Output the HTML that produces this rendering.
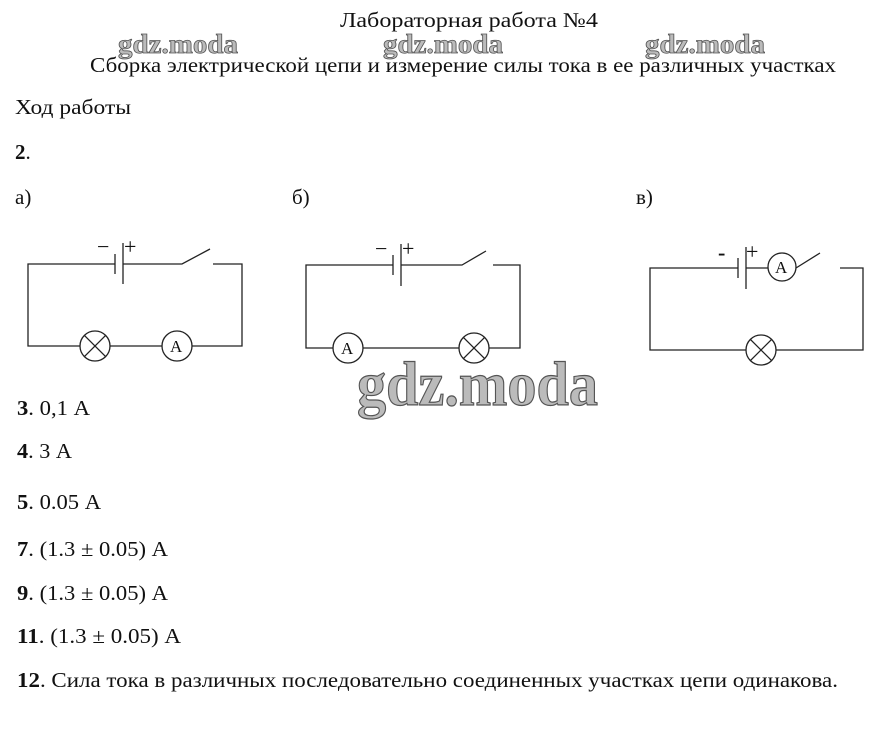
<!DOCTYPE html>
<html><head><meta charset="utf-8"><style>
html,body{margin:0;padding:0;background:#fff;}
svg{display:block;}
text{font-family:"Liberation Serif","DejaVu Serif",serif;fill:#111;}
.w{font-weight:bold;fill:#bbb;stroke:#555;stroke-width:0.8;}
</style></head><body>
<svg width="874" height="739" viewBox="0 0 874 739" xmlns="http://www.w3.org/2000/svg">
<text x="340" y="27" font-size="21" textLength="258" lengthAdjust="spacingAndGlyphs">Лабораторная работа №4</text>
<text class="w" x="118" y="53" font-size="27" textLength="120" lengthAdjust="spacingAndGlyphs">gdz.moda</text>
<text class="w" x="383" y="53" font-size="27" textLength="120" lengthAdjust="spacingAndGlyphs">gdz.moda</text>
<text class="w" x="645" y="53" font-size="27" textLength="120" lengthAdjust="spacingAndGlyphs">gdz.moda</text>
<text x="90" y="72" font-size="21" textLength="746" lengthAdjust="spacingAndGlyphs">Сборка электрической цепи и измерение силы тока в ее различных участках</text>
<text x="15" y="114" font-size="21" textLength="116" lengthAdjust="spacingAndGlyphs">Ход работы</text>
<text x="15" y="159" font-size="21"><tspan font-weight="bold">2</tspan>.</text>
<text x="15" y="204" font-size="21">а)</text>
<text x="292" y="204" font-size="21">б)</text>
<text x="636" y="204" font-size="21">в)</text>

<g stroke="#222" stroke-width="1.3" fill="none">
<path d="M115 264 H28 V346 H80 M110 346 H162 M192 346 H242 V264 H213 M123 264 H182 L210 249"/>
<line x1="115" y1="254" x2="115" y2="274"/><line x1="123" y1="243" x2="123" y2="284"/>
<circle cx="95" cy="346" r="15"/><path d="M84.4 335.4 L105.6 356.6 M105.6 335.4 L84.4 356.6"/>
<circle cx="177" cy="346" r="15"/>
<path d="M393 265 H306 V348 H333 M363 348 H459 M489 348 H520 V265 H493 M401 265 H462 L486 251"/>
<line x1="393" y1="255" x2="393" y2="275"/><line x1="401" y1="244" x2="401" y2="286"/>
<circle cx="348" cy="348" r="15"/>
<circle cx="474" cy="348" r="15"/><path d="M463.4 337.4 L484.6 358.6 M484.6 337.4 L463.4 358.6"/>
<path d="M738 268 H650 V350 H746 M776 350 H863 V268 H840 M746 268 H768 M796 268 L820 253"/>
<line x1="738" y1="258" x2="738" y2="278"/><line x1="746" y1="247" x2="746" y2="289"/>
<circle cx="782" cy="267" r="14"/>
<circle cx="761" cy="350" r="15"/><path d="M750.4 339.4 L771.6 360.6 M771.6 339.4 L750.4 360.6"/>
</g>
<g font-size="22">
<text x="97" y="254">−</text><text x="124" y="254">+</text>
<text x="375" y="256">−</text><text x="402" y="256">+</text>
<text x="718" y="260" font-weight="bold">-</text><text x="746" y="259">+</text>
<text x="170" y="352" font-size="17">A</text>
<text x="341" y="354" font-size="17">A</text>
<text x="775" y="273" font-size="17">A</text>
</g>

<text class="w" x="357" y="405" font-size="62" textLength="241" lengthAdjust="spacingAndGlyphs" style="stroke-width:1.2">gdz.moda</text>

<g font-size="21">
<text x="17" y="415" textLength="73" lengthAdjust="spacingAndGlyphs"><tspan font-weight="bold">3</tspan>. 0,1 А</text>
<text x="17" y="458" textLength="55" lengthAdjust="spacingAndGlyphs"><tspan font-weight="bold">4</tspan>. 3 А</text>
<text x="17" y="509" textLength="84" lengthAdjust="spacingAndGlyphs"><tspan font-weight="bold">5</tspan>. 0.05 А</text>
<text x="17" y="556" textLength="151" lengthAdjust="spacingAndGlyphs"><tspan font-weight="bold">7</tspan>. (1.3 ± 0.05) А</text>
<text x="17" y="600" textLength="151" lengthAdjust="spacingAndGlyphs"><tspan font-weight="bold">9</tspan>. (1.3 ± 0.05) А</text>
<text x="17" y="643" textLength="164" lengthAdjust="spacingAndGlyphs"><tspan font-weight="bold">11</tspan>. (1.3 ± 0.05) А</text>
<text x="17" y="687" textLength="821" lengthAdjust="spacingAndGlyphs"><tspan font-weight="bold">12</tspan>. Сила тока в различных последовательно соединенных участках цепи одинакова.</text>
</g>
</svg>
</body></html>
